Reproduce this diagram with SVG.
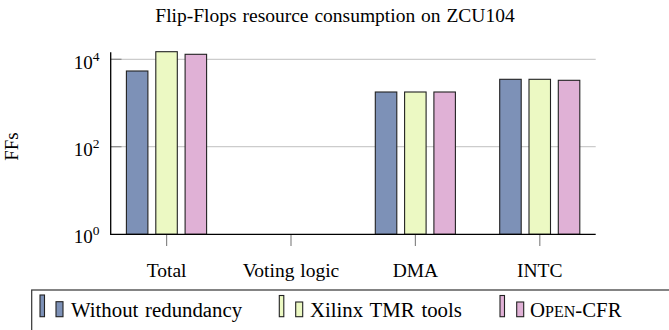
<svg xmlns="http://www.w3.org/2000/svg" width="669" height="330" viewBox="0 0 669 330">
<style>
text{font-family:"Liberation Serif","Times New Roman",serif;fill:#000}
.title{font-size:19.5px;word-spacing:1px}
.lbl{font-size:19px}
.sup{font-size:13.5px}
.xl{font-size:19.5px;word-spacing:1px}
.leg{font-size:20.8px;word-spacing:1.6px}
.grid{stroke:#cccccc;stroke-width:1.2}
.tick{stroke:#888888;stroke-width:1.2}
.axis{stroke:#000;stroke-width:1.3;fill:none}
.bar{stroke:#222;stroke-width:1.1}
.b{fill:#7d91b7}
.g{fill:#ecf9c3}
.p{fill:#e0b1d6}
</style>
<rect width="669" height="330" fill="#fff"/>
<text class="title" x="335" y="21.7" text-anchor="middle">Flip-Flops resource consumption on ZCU104</text>
<g id="grid">
<line class="grid" x1="110.7" y1="59.3" x2="595.7" y2="59.3"/>
<line class="grid" x1="110.7" y1="146.7" x2="595.7" y2="146.7"/>
<line class="tick" x1="110.7" y1="59.3" x2="121.5" y2="59.3"/>
<line class="tick" x1="110.7" y1="146.7" x2="121.5" y2="146.7"/>
<line class="tick" x1="166.6" y1="234.3" x2="166.6" y2="246"/>
<line class="tick" x1="291" y1="234.3" x2="291" y2="246"/>
<line class="tick" x1="415.4" y1="234.3" x2="415.4" y2="246"/>
<line class="tick" x1="539.8" y1="234.3" x2="539.8" y2="246"/>
</g>
<g id="ylabels">
<text class="lbl" x="99.5" y="69" text-anchor="end">10<tspan class="sup" dy="-8">4</tspan></text>
<text class="lbl" x="99.5" y="155.5" text-anchor="end">10<tspan class="sup" dy="-8">2</tspan></text>
<text class="lbl" x="99.5" y="243.3" text-anchor="end">10<tspan class="sup" dy="-8">0</tspan></text>
<text class="lbl" transform="translate(17.5,146.5) rotate(-90)" text-anchor="middle">FFs</text>
</g>
<g id="bars">
<g id="total">
<rect class="bar b" x="126.4" y="71" width="21.5" height="163.3"/>
<rect class="bar g" x="155.8" y="51.7" width="21.5" height="182.6"/>
<rect class="bar p" x="185.1" y="54.3" width="21.5" height="180"/>
</g>
<g id="dma">
<rect class="bar b" x="375.3" y="92" width="21.5" height="142.3"/>
<rect class="bar g" x="404.6" y="92" width="21.5" height="142.3"/>
<rect class="bar p" x="433.9" y="92" width="21.5" height="142.3"/>
</g>
<g id="intc">
<rect class="bar b" x="499.7" y="79.3" width="21.5" height="155"/>
<rect class="bar g" x="529" y="79.3" width="21.5" height="155"/>
<rect class="bar p" x="558.3" y="80.3" width="21.5" height="154"/>
</g>
</g>
<g id="axes">
<polyline class="axis" points="110.7,52.3 110.7,234.3 595.7,234.3"/>
</g>
<g id="xlabels">
<text class="xl" x="166.6" y="277" text-anchor="middle">Total</text>
<text class="xl" x="291" y="277" text-anchor="middle">Voting logic</text>
<text class="xl" x="415.4" y="277" text-anchor="middle">DMA</text>
<text class="xl" x="539.8" y="277" text-anchor="middle">INTC</text>
</g>
<g id="legend">
<rect x="31.7" y="290" width="680" height="60" fill="#fff" stroke="#333" stroke-width="1.2"/>
<g id="leg-without">
<rect class="bar b" x="40" y="295" width="4.5" height="21.7"/>
<rect class="bar b" x="56" y="301.7" width="7" height="15"/>
<text class="leg" x="71" y="316.5">Without redundancy</text>
</g>
<g id="leg-xilinx">
<rect class="bar g" x="279.3" y="295.5" width="4.5" height="21.2"/>
<rect class="bar g" x="295.7" y="302" width="7" height="14.7"/>
<text class="leg" x="310" y="316.5">Xilinx TMR tools</text>
</g>
<g id="leg-opencfr">
<rect class="bar p" x="500" y="295.5" width="4.5" height="21.2"/>
<rect class="bar p" x="516.7" y="302" width="7" height="14.7"/>
<text class="leg" x="530" y="316.5">O<tspan font-size="16px">PEN</tspan>-CFR</text>
</g>
</g>
</svg>
